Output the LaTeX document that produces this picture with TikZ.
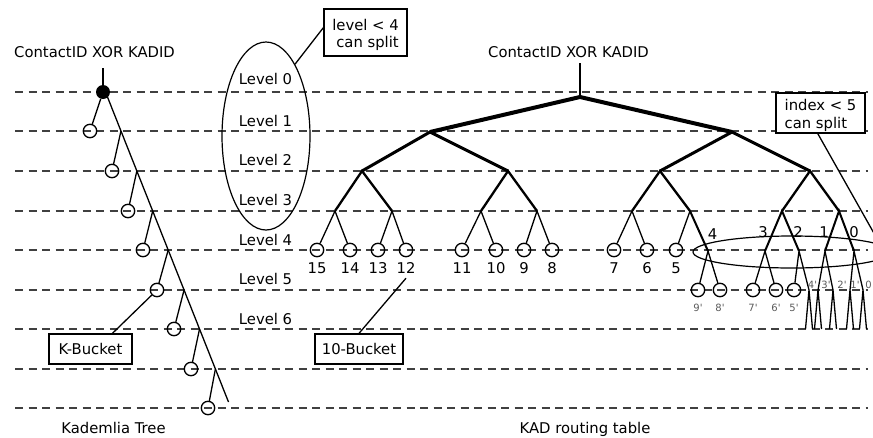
\documentclass[tikz,border=0pt]{standalone}
\usepackage{fontspec}
\setmainfont{DejaVu Sans}
\usetikzlibrary{shapes.geometric,calc}
\definecolor{dashcol}{HTML}{404040}
\definecolor{primecol}{HTML}{5A5A5A}
\newcommand{\myq}{\textquotesingle}
\begin{document}
\begin{tikzpicture}[x=1pt,y=-1pt,
  font=\fontsize{14.8}{17.5}\selectfont,
  lvline/.style={draw=dashcol,line width=1.3pt,dash pattern=on 8pt off 5.5pt},
  txt/.style={inner sep=0pt,anchor=base},
  ptxt/.style={inner sep=0pt,anchor=base,font=\fontsize{10}{12}\selectfont,text=primecol},
  mybox/.style={draw,fill=white,line width=1.3pt,inner sep=0pt},
  leaf/.style={circle,draw,line width=1.3pt,minimum size=13.4pt,inner sep=0pt},
  rootdot/.style={circle,fill=black,minimum size=14pt,inner sep=0pt},
  ring/.style={draw,ellipse,line width=1.2pt,inner sep=0pt},
  eA/.style={line width=4pt,line join=miter},
  eB/.style={line width=3pt,line join=miter},
  eC/.style={line width=2.3pt,line join=miter},
  eM/.style={line width=2pt},
  eT/.style={line width=1.3pt},
  stem/.style={line width=2.4pt},
]
\useasboundingbox (0,0) rectangle (873,437);
\clip (0,0) rectangle (873,437);

% level guide lines
\foreach \yy in {92,131,171,211,250,290,329,369,408}
  \draw[lvline] (15,\yy) -- (868,\yy);

% ---------------- left: Kademlia tree ----------------
\node[txt] (ctL) at (94.5,57) {ContactID XOR KADID};
\coordinate (r0top) at (103,68);
\node[rootdot] (r0) at (103,92) {};
\draw[stem] (r0top) -- (r0.center);
\coordinate (mStart) at (105.5,92);
\coordinate (mEnd) at (228.5,402);
\draw[eT] (mStart) -- (mEnd);
\foreach \i/\t in {1/0.1258,2/0.2548,3/0.3839,4/0.5097,5/0.6387,6/0.7645,7/0.8935}
  \coordinate (m\i) at ($(mStart)!\t!(mEnd)$);
\foreach \i/\x/\yy in {1/90/131,2/112/171,3/128/211,4/143/250,5/157/290,6/174/329,7/191/369,8/208/408}
  \node[leaf] (c\i) at (\x,\yy) {};
\draw[eT] (r0) -- (c1);
\foreach \i [evaluate=\i as \j using int(\i+1)] in {1,...,7}
  \draw[eT] (m\i) -- (c\j);
\node[mybox,minimum width=83pt,minimum height=30pt] (kb) at (90.5,349) {K-Bucket};
\draw[eT] ($(kb.north west)!0.76!(kb.north east)$) -- (c5);
\node[txt] (kt) at (113.5,433) {Kademlia Tree};

% ---------------- middle: levels ----------------
\node[ring,minimum width=88pt,minimum height=188pt] (lvE) at (266,136) {};
\foreach \i/\yy in {0/84,1/126,2/165,3/205,4/245,5/284,6/324}
  \node[txt] (lv\i) at (265.5,\yy) {Level \i};
\node[mybox,minimum width=83pt,minimum height=47pt,align=right] (lvbox) at (365.5,32.5)
  {\rule{0pt}{16.4pt}level < 4\\can split};
\draw[eT] (lvE.68) -- ($(lvbox.north west)!0.4!(lvbox.south west)$);

% ---------------- right: KAD routing table ----------------
\node[txt] (ctR) at (568.5,57.5) {ContactID XOR KADID};
\coordinate (RTtop) at (580,63);
\coordinate (RT) at (580,97);
\coordinate (A) at (430,132);
\coordinate (B) at (732,132);
\coordinate (AA) at (362,171);
\coordinate (AB) at (508,171);
\coordinate (BA) at (660,171);
\coordinate (BB) at (810,171);
\coordinate (AAA) at (335,211);
\coordinate (AAB) at (392,211);
\coordinate (ABA) at (481,211);
\coordinate (ABB) at (537,211);
\coordinate (BAA) at (632,211);
\coordinate (BAB) at (690,211);
\coordinate (BBA) at (782,211);
\coordinate (BBB) at (839,211);
\draw[line width=2.2pt] (RTtop) -- (RT);
\draw[eA] (A) -- (RT) -- (B);
\draw[eB] (AA) -- (A) -- (AB);
\draw[eB] (BA) -- (B) -- (BB);
\draw[eC] (AAA) -- (AA) -- (AAB);
\draw[eC] (ABA) -- (AB) -- (ABB);
\draw[eC] (BAA) -- (BA) -- (BAB);
\draw[eC] (BBA) -- (BB) -- (BBB);

% level-4 leaves
\foreach \n/\x in {15/317,14/350,13/378,12/406,11/462,10/496,9/524,8/552,7/614,6/647,5/676} {
  \node[leaf] (k\n) at (\x,250) {};
  \node[txt] (t\n) at (\x,273.5) {\n};
}
\draw[eT] (k15) -- (AAA) -- (k14);
\draw[eT] (k13) -- (AAB) -- (k12);
\draw[eT] (k11) -- (ABA) -- (k10);
\draw[eT] (k9) -- (ABB) -- (k8);
\draw[eT] (k7) -- (BAA) -- (k6);
\draw[eT] (BAB) -- (k5);

% level-4 split nodes
\coordinate (n4) at (708,251);
\coordinate (n3) at (765,251);
\coordinate (n2) at (799,251);
\coordinate (n1) at (825,251);
\coordinate (n0) at (854,251);
\draw[eM] (BAB) -- (n4);
\draw[eM] (n3) -- (BBA) -- (n2);
\draw[eM] (n1) -- (BBB) -- (n0);
\node[txt] (l4) at (712.5,239) {4};
\node[txt] (l3) at (763,237.5) {3};
\node[txt] (l2) at (798,237.5) {2};
\node[txt] (l1) at (824,237.5) {1};
\node[txt] (l0) at (854,237.5) {0};

% level-5 leaves
\foreach \n/\x in {9/698,8/720,7/753,6/776,5/794} {
  \node[leaf] (q\n) at (\x,290) {};
  \node[ptxt] (u\n) at (\x,311) {\n\myq};
}
\foreach \i/\x in {4/809,3/818,2/833,1/850,0/863} {
  \coordinate (p\i) at (\x,290);
  \coordinate (pl\i) at (\x-3.5,329);
  \coordinate (pr\i) at (\x+3.5,329);
  \draw[eT] (pl\i) -- (p\i) -- (pr\i);
}
\draw[eT] (q9) -- (n4) -- (q8);
\draw[eT] (q7) -- (n3) -- (q6);
\draw[eT] (q5) -- (n2) -- (p4);
\draw[eT] (p3) -- (n1) -- (p2);
\draw[eT] (p1) -- (n0) -- (p0);
\node[ptxt] (v4) at (812.5,288.5) {4\myq};
\node[ptxt] (v3) at (826,288.5) {3\myq};
\node[ptxt] (v2) at (842,288.5) {2\myq};
\node[ptxt] (v1) at (855,288.5) {1\myq};
\node[ptxt] (v0) at (868.5,288.5) {0};

% split ellipse and note
\node[ring,minimum width=198pt,minimum height=32pt] (rE) at (792,252) {};
\node[mybox,minimum width=89pt,minimum height=40pt,align=left] (ibox) at (820.5,113)
  {\rule{0pt}{16.4pt}index < 5\\can split};
\draw[eT] ($(ibox.south west)!0.47!(ibox.south east)$) -- (rE.5);

% 10-bucket
\node[mybox,minimum width=88pt,minimum height=30pt] (bk) at (359,349) {10-Bucket};
\draw[eT] ($(bk.north west)!0.50!(bk.north east)$) -- ([yshift=-4.5pt]t12.south);

\node[txt] (kr) at (585,433) {KAD routing table};
\end{tikzpicture}
\end{document}
